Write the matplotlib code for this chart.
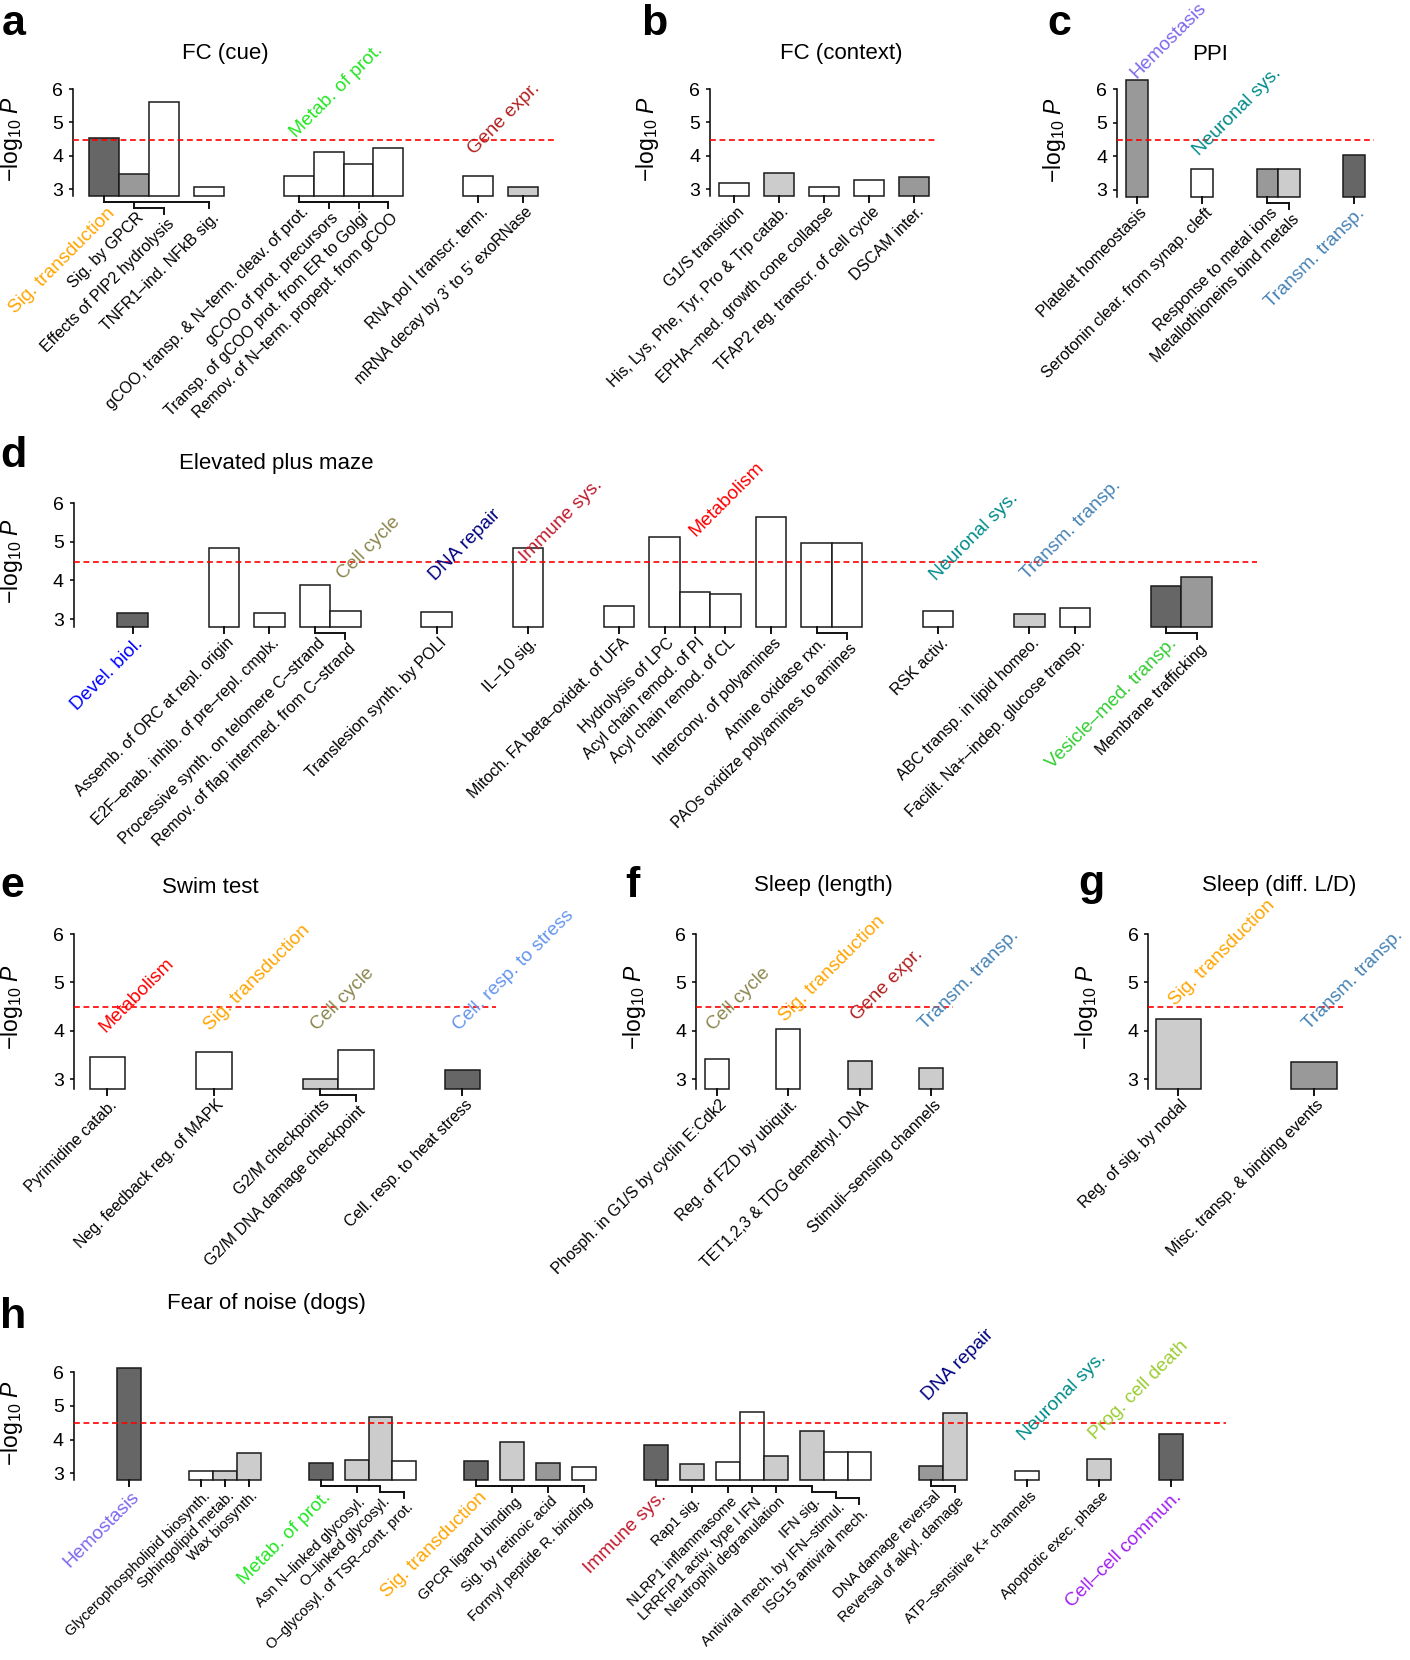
import numpy as np
import matplotlib.pyplot as plt
from matplotlib import transforms

plt.rcParams['font.family'] = ['Liberation Sans', 'DejaVu Sans']
plt.rcParams['mathtext.fontset'] = 'custom'
plt.rcParams['mathtext.rm'] = 'Liberation Sans'
plt.rcParams['mathtext.it'] = 'Liberation Sans:italic'

W, H = 1410, 1660
THRESH = 4.48

# category colours (used for coloured labels)
CAT_COLORS = {
    'Sig. transduction': '#ffa500',
    'Metab. of prot.': '#22e622',
    'Gene expr.': '#b22222',
    'Hemostasis': '#7b68ee',
    'Neuronal sys.': '#008b8b',
    'Transm. transp.': '#4682b4',
    'Devel. biol.': '#0000ff',
    'Cell cycle': '#8b864e',
    'DNA repair': '#000080',
    'Immune sys.': '#c0182a',
    'Metabolism': '#ff0000',
    'Vesicle–med. transp.': '#32cd32',
    'Cell. resp. to stress': '#6495ed',
    'Prog. cell death': '#9acd32',
    'Cell–cell commun.': '#a020f0',
}
SHADES = ['white', '#cccccc', '#999999', '#666666']

# ---- a: FC (cue)
a_names = ['Sig. transduction', 'Sig. by GPCR', 'Effects of PIP2 hydrolysis',
           'TNFR1–ind. NFkB sig.', 'gCOO, transp. & N–term. cleav. of prot.',
           'gCOO of prot. precursors', 'Transp. of gCOO prot. from ER to Golgi',
           'Remov. of N–term. propept. from gCOO', 'RNA pol I transcr. term.',
           'mRNA decay by 3’ to 5’ exoRNase']
a_vals = [4.52, 3.45, 5.61, 3.06, 3.39, 4.12, 3.75, 4.22, 3.39, 3.06]
a_shade = [3, 2, 0, 0, 0, 0, 0, 0, 0, 1]
a_parent = [-1, 0, 1, 0, -1, 4, 4, 4, -1, -1]
a_above = ['Metab. of prot.', 'Gene expr.']

# ---- b: FC (context)
b_names = ['G1/S transition', 'His, Lys, Phe, Tyr, Pro & Trp catab.',
           'EPHA–med. growth cone collapse', 'TFAP2 reg. transcr. of cell cycle',
           'DSCAM inter.']
b_vals = [3.19, 3.47, 3.07, 3.27, 3.37]
b_shade = [0, 1, 0, 0, 2]
b_parent = [-1, -1, -1, -1, -1]
b_above = []

# ---- c: PPI
c_names = ['Platelet homeostasis', 'Serotonin clear. from synap. cleft',
           'Response to metal ions', 'Metallothioneins bind metals', 'Transm. transp.']
c_vals = [6.27, 3.61, 3.61, 3.61, 4.03]
c_shade = [2, 0, 2, 1, 3]
c_parent = [-1, -1, -1, 2, -1]
c_above = ['Hemostasis', 'Neuronal sys.']

# ---- d: Elevated plus maze
d_names = ['Devel. biol.', 'Assemb. of ORC at repl. origin',
           'E2F–enab. inhib. of pre–repl. cmplx.', 'Processive synth. on telomere C–strand',
           'Remov. of flap intermed. from C–strand', 'Translesion synth. by POLI',
           'IL–10 sig.', 'Mitoch. FA beta–oxidat. of UFA', 'Hydrolysis of LPC',
           'Acyl chain remod. of PI', 'Acyl chain remod. of CL', 'Interconv. of polyamines',
           'Amine oxidase rxn.', 'PAOs oxidize polyamines to amines', 'RSK activ.',
           'ABC transp. in lipid homeo.', 'Facilit. Na+–indep. glucose transp.',
           'Vesicle–med. transp.', 'Membrane trafficking']
d_vals = [3.15, 4.85, 3.16, 3.87, 3.21, 3.19, 4.84, 3.35, 5.12, 3.70, 3.65, 5.64,
          4.97, 4.97, 3.20, 3.14, 3.28, 3.85, 4.08]
d_shade = [3, 0, 0, 0, 0, 0, 0, 0, 0, 0, 0, 0, 0, 0, 0, 1, 0, 3, 2]
d_parent = [-1, -1, -1, -1, 3, -1, -1, -1, -1, -1, -1, -1, -1, 12, -1, -1, -1, -1, 17]
d_above = ['Cell cycle', 'DNA repair', 'Immune sys.', 'Metabolism',
           'Neuronal sys.', 'Transm. transp.']

# ---- e: Swim test
e_names = ['Pyrimidine catab.', 'Neg. feedback reg. of MAPK', 'G2/M checkpoints',
           'G2/M DNA damage checkpoint', 'Cell. resp. to heat stress']
e_vals = [3.46, 3.55, 3.01, 3.59, 3.19]
e_shade = [0, 0, 1, 0, 3]
e_parent = [-1, -1, -1, 2, -1]
e_above = ['Metabolism', 'Sig. transduction', 'Cell cycle', 'Cell. resp. to stress']

# ---- f: Sleep (length)
f_names = ['Phosph. in G1/S by cyclin E:Cdk2', 'Reg. of FZD by ubiquit.',
           'TET1,2,3 & TDG demethyl. DNA', 'Stimuli–sensing channels']
f_vals = [3.41, 4.04, 3.37, 3.23]
f_shade = [0, 0, 1, 1]
f_parent = [-1, -1, -1, -1]
f_above = ['Cell cycle', 'Sig. transduction', 'Gene expr.', 'Transm. transp.']

# ---- g: Sleep (diff. L/D)
g_names = ['Reg. of sig. by nodal', 'Misc. transp. & binding events']
g_vals = [4.24, 3.36]
g_shade = [1, 2]
g_parent = [-1, -1]
g_above = ['Sig. transduction', 'Transm. transp.']

# ---- h: Fear of noise (dogs)
h_names = ['Hemostasis', 'Glycerophospholipid biosynth.', 'Sphingolipid metab.',
           'Wax biosynth.', 'Metab. of prot.', 'Asn N–linked glycosyl.',
           'O–linked glycosyl.', 'O–glycosyl. of TSR–cont. prot.', 'Sig. transduction',
           'GPCR ligand binding', 'Sig. by retinoic acid', 'Formyl peptide R. binding',
           'Immune sys.', 'Rap1 sig.', 'NLRP1 inflammasome', 'LRRFIP1 activ. type I IFN',
           'Neutrophil degranulation', 'IFN sig.', 'Antiviral mech. by IFN–stimul.',
           'ISG15 antiviral mech.', 'DNA damage reversal', 'Reversal of alkyl. damage',
           'ATP–sensitive K+ channels', 'Apoptotic exec. phase', 'Cell–cell commun.']
h_vals = [6.14, 3.08, 3.06, 3.61, 3.31, 3.40, 4.66, 3.38, 3.38, 3.93, 3.31, 3.20,
          3.83, 3.28, 3.34, 4.82, 3.50, 4.25, 3.62, 3.62, 3.22, 4.80, 3.07, 3.43, 4.17]
h_shade = [3, 0, 1, 1, 3, 1, 1, 0, 3, 1, 2, 0, 3, 1, 0, 0, 1, 1, 0, 0, 2, 1, 0, 1, 3]
h_parent = [-1, -1, -1, -1, -1, 4, 4, 6, -1, 8, 8, 8, -1, 12, 12, 12, 12, 12, 17, 18,
            -1, 20, -1, -1, -1]
h_above = ['DNA repair', 'Neuronal sys.', 'Prog. cell death']

# ---- layout (pixels of the 1410x1660 canvas, bar units for gaps / label offsets)
LAYOUT = {
    'a': dict(box=(73, 29.9, 0.55, 0.62, 89, 189), title=(225, 54), letter=(2, 35),
              gaps=[0, 0, 0, 0.5, 2, 0, 0, 0, 2, 0.5],
              above=[(4, 0.43, 4.52), (8, 0.38, 4.02)]),
    'b': dict(box=(710, 30.0, 0.31, 0.2, 89, 189), title=(841, 53), letter=(641, 35),
              gaps=[0, 0.5, 0.5, 0.5, 0.5], above=[]),
    'c': dict(box=(1117, 21.7, 0.43, 0.43, 89, 190), title=(1210, 55), letter=(1047, 35),
              gaps=[0, 2, 2, 0, 2],
              above=[(0, 0.45, 6.3), (1, 0.37, 3.99)]),
    'd': dict(box=(73.7, 30.4, 1.44, 1.47, 503.3, 619), title=(276, 463), letter=(0, 467),
              gaps=[0, 2, 0.5, 0.5, 0, 2, 2, 2, 0.5, 0, 0, 0.5, 0.5, 0, 2, 2, 0.5, 2, 0],
              above=[(4, 0.44, 4.01), (5, 0.45, 3.97), (6, 0.45, 4.47),
                     (9, 0.5, 5.13), (14, 0.44, 3.97), (15, 0.43, 4.01)]),
    'e': dict(box=(73.9, 35.5, 0.44, 0.44, 934, 1079), title=(210, 887), letter=(0, 897),
              gaps=[0, 2, 2, 0, 2],
              above=[(0, 0.44, 3.95), (1, 0.4, 3.98), (2, 0.41, 3.98), (4, 0.41, 3.98)]),
    'f': dict(box=(696, 23.8, 0.38, 0.42, 934, 1079), title=(823, 885), letter=(625, 897),
              gaps=[0, 2, 2, 2],
              above=[(0, 0.35, 3.98), (1, 0.38, 4.17), (2, 0.39, 4.19), (3, 0.24, 4.0)]),
    'g': dict(box=(1148.3, 45.25, 0.16, 0.15, 934, 1079), title=(1279, 885), letter=(1078, 895),
              gaps=[0, 2], above=[(0, 0.43, 4.5), (1, 0.4, 4.01)]),
    'h': dict(box=(73.7, 23.95, 1.81, 1.79, 1372.3, 1473.3), title=(266, 1303), letter=(0, 1328),
              gaps=[0, 2, 0, 0, 2, 0.5, 0, 0, 2, 0.5, 0.5, 0.5, 2, 0.5, 0.5, 0, 0, 0.5, 0, 0,
                    2, 0, 2, 2, 2],
              above=[(20, 0.37, 5.14), (22, 0.37, 3.94), (23, 0.34, 3.99)], fs=10.6),
}
LABEL_FS = 11.5
CAT_FS = 13.8
STEP_PX = 6.0

fig = plt.figure(figsize=(W / 100, H / 100), dpi=100)


def draw_panel(key, title, names, vals, shade, parent, above):
    lay = LAYOUT[key]
    spine_x, unit, pad_l, pad_r, y6, y3 = lay['box']
    n = len(names)
    pos = np.cumsum(lay['gaps']) + np.arange(n)
    end = pos[-1] + 1
    ybot = y3 + 0.2 * (y3 - y6) / 3
    w = (end + pad_l + pad_r) * unit
    h = ybot - y6
    ax = fig.add_axes([spine_x / W, 1 - ybot / H, w / W, h / H])
    ax.set_xlim(-pad_l, end + pad_r)
    ax.set_ylim(2.8, 6)

    vals = np.asarray(vals)
    ax.bar(pos + 0.5, vals - 2.8, bottom=2.8, width=1.0,
           color=[SHADES[s] for s in shade], edgecolor='#1a1a1a', linewidth=1.1,
           clip_on=False, zorder=2)
    ax.axhline(THRESH, color='red', lw=1.2, ls=(0, (3.5, 2.2)), zorder=3)

    for s in ['top', 'right', 'bottom']:
        ax.spines[s].set_visible(False)
    ax.spines['left'].set_linewidth(1.1)
    ax.set_xticks([])
    ax.set_yticks([3, 4, 5, 6])
    ax.tick_params(axis='y', labelsize=14, length=3, width=1.1, pad=4)
    ax.text(-62 / w, 0.53, '\u2212log$_{10}$ $P$', transform=ax.transAxes,
            rotation=90, ha='center', va='center', fontsize=16.5)

    # hierarchy brackets and rotated labels
    bl = transforms.blended_transform_factory(ax.transData, ax.transAxes)
    step = STEP_PX / h
    label_fs = lay.get('fs', LABEL_FS)
    depth = []
    for i in range(n):
        d, p = 0, parent[i]
        while p >= 0:
            d += 1
            p = parent[p]
        depth.append(d)
    for i in range(n):
        x = pos[i] + 0.5
        y0, y1 = -depth[i] * step, -(depth[i] + 1) * step
        ax.plot([x, x], [y0, y1], transform=bl, color='#111111', lw=1.4,
                clip_on=False, solid_capstyle='projecting')
        if parent[i] >= 0:
            px = pos[parent[i]] + 0.5
            ax.plot([px, x], [y0, y0], transform=bl, color='#111111', lw=1.4,
                    clip_on=False, solid_capstyle='projecting')
        col = CAT_COLORS.get(names[i], 'black')
        fs = CAT_FS if names[i] in CAT_COLORS else label_fs
        ax.text(x + 2 / unit, y1 - 2.5 / h, names[i], transform=bl, rotation=45,
                rotation_mode='anchor', ha='right', va='top', fontsize=fs, color=col)

    for name, (bi, dx, yv) in zip(above, lay['above']):
        ax.text(pos[bi] + dx, yv, name, rotation=45, rotation_mode='anchor',
                ha='left', va='baseline', fontsize=CAT_FS, color=CAT_COLORS[name],
                clip_on=False, zorder=4)

    tx, ty = lay['title']
    fig.text(tx / W, 1 - ty / H, title, ha='center', va='center', fontsize=16)
    lx, ly = lay['letter']
    fig.text(lx / W, 1 - ly / H, key, ha='left', va='baseline', fontsize=31,
             fontweight='bold')
    return ax


draw_panel('a', 'FC (cue)', a_names, a_vals, a_shade, a_parent, a_above)
draw_panel('b', 'FC (context)', b_names, b_vals, b_shade, b_parent, b_above)
draw_panel('c', 'PPI', c_names, c_vals, c_shade, c_parent, c_above)
draw_panel('d', 'Elevated plus maze', d_names, d_vals, d_shade, d_parent, d_above)
draw_panel('e', 'Swim test', e_names, e_vals, e_shade, e_parent, e_above)
draw_panel('f', 'Sleep (length)', f_names, f_vals, f_shade, f_parent, f_above)
draw_panel('g', 'Sleep (diff. L/D)', g_names, g_vals, g_shade, g_parent, g_above)
draw_panel('h', 'Fear of noise (dogs)', h_names, h_vals, h_shade, h_parent, h_above)

fig.savefig('out.png', dpi=100)
